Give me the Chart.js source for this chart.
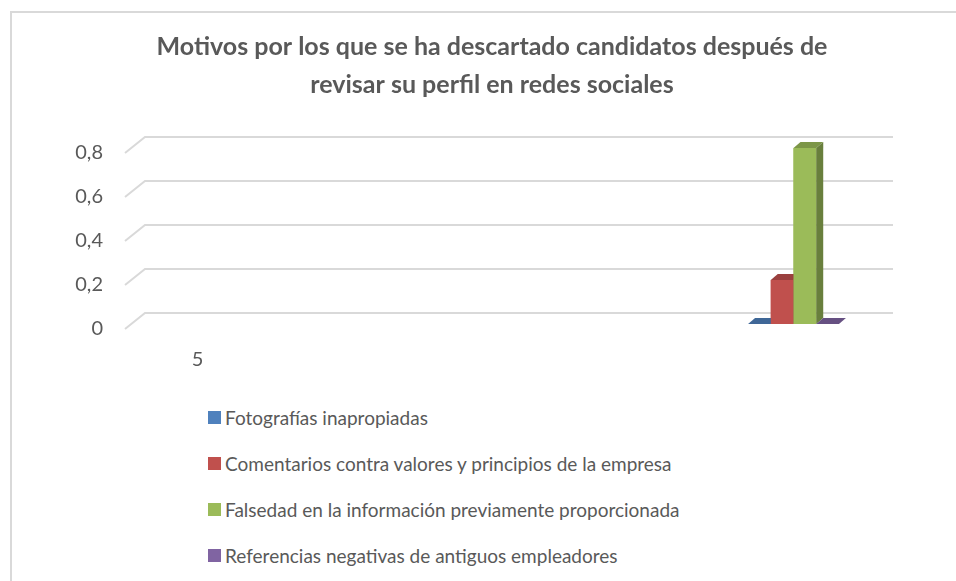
<!DOCTYPE html>
<html>
<head>
<meta charset="utf-8">
<script src="https://cdn.jsdelivr.net/npm/chart.js@4/dist/chart.umd.min.js"></script>
<style>
  body { margin: 0; overflow: hidden; background: #fff; width: 956px; height: 581px; font-family: Lato, sans-serif; }
  #frame { position: absolute; left: 10px; top: 11px; width: 990px; height: 620px;
           border-left: 2px solid #d9d9d9; border-top: 2px solid #d9d9d9; }
  #chartBox { position: absolute; left: 0; top: 0; }
  #legend { position: absolute; left: 196px; top: 381px; }
  .leg-item { display: flex; align-items: center; height: 46px; font-size: 19px; color: #595959; white-space: nowrap; }
  .leg-box { width: 13px; height: 13px; margin-right: 4px; }
</style>
</head>
<body>
<div id="frame">
  <canvas id="chartBox" width="960" height="380"></canvas>
  <div id="legend"></div>
</div>
<script>
// ---------- Data ----------
const titleLines = ["Motivos por los que se ha descartado candidatos después de", "revisar su perfil en redes sociales"];
const categories = ["5", "", "", "", ""];
const seriesNames = [
  "Fotografías inapropiadas",
  "Comentarios contra valores y principios de la empresa",
  "Falsedad en la información previamente proporcionada",
  "Referencias negativas de antiguos empleadores"
];
const fotografias = [null, null, null, null, 0];
const comentarios = [null, null, null, null, 0.2];
const falsedad = [null, null, null, null, 0.8];
const referencias = [null, null, null, null, 0];
const yTicks = [0, 0.2, 0.4, 0.6, 0.8];
const colors = ["#4f81bd", "#c0504d", "#9bbb59", "#8064a2"];

// ---------- Helpers ----------
function shade(hex, f) {
  const n = parseInt(hex.slice(1), 16);
  const r = Math.round(((n >> 16) & 255) * f);
  const g = Math.round(((n >> 8) & 255) * f);
  const b = Math.round((n & 255) * f);
  return `rgb(${r},${g},${b})`;
}
function poly(ctx, pts) {
  ctx.beginPath();
  ctx.moveTo(pts[0][0], pts[0][1]);
  pts.slice(1).forEach(p => ctx.lineTo(p[0], p[1]));
  ctx.closePath();
  ctx.fill();
}

const DX = 7, DY = 6;

// fake 3D: perspective gridlines + top/side faces of bars
const bar3d = {
  id: "bar3d",
  beforeDatasetsDraw(chart) {
    const { ctx, chartArea } = chart;
    const y = chart.scales.y;
    ctx.save();
    ctx.strokeStyle = "#d9d9d9";
    ctx.lineWidth = 2;
    yTicks.forEach(v => {
      const py = y.getPixelForValue(v);
      ctx.beginPath();
      ctx.moveTo(chartArea.left + 2, py + 5);
      ctx.lineTo(chartArea.left + 22, py - 11);
      ctx.lineTo(chartArea.right + 25, py - 11);
      ctx.stroke();
    });
    ctx.restore();
  },
  afterDatasetsDraw(chart) {
    const ctx = chart.ctx;
    ctx.save();
    chart.data.datasets.forEach((ds, i) => {
      const meta = chart.getDatasetMeta(i);
      meta.data.forEach((bar, j) => {
        if (ds.data[j] == null) return;
        const { x, y, base, width } = bar.getProps(["x", "y", "base", "width"], true);
        const l = x - width / 2, r = x + width / 2;
        ctx.fillStyle = ds.backgroundColor;
        ctx.fillRect(l, y, width, base - y);
        ctx.fillStyle = shade(ds.backgroundColor, 0.8);
        poly(ctx, [[l, y], [r, y], [r + DX, y - DY], [l + DX, y - DY]]);
        ctx.fillStyle = shade(ds.backgroundColor, 0.68);
        poly(ctx, [[r, y], [r + DX, y - DY], [r + DX, base - DY], [r, base]]);
      });
    });
    ctx.restore();
  }
};

const seriesData = [fotografias, comentarios, falsedad, referencias];

const chart = new Chart(document.getElementById("chartBox"), {
  type: "bar",
  data: {
    labels: categories,
    datasets: seriesNames.map((name, i) => ({
      label: name,
      data: seriesData[i],
      backgroundColor: colors[i],
      borderWidth: 0,
      barPercentage: 1,
      categoryPercentage: 0.61
    }))
  },
  plugins: [bar3d],
  options: {
    responsive: false,
    devicePixelRatio: 1,
    animation: false,
    layout: { padding: 0 },
    plugins: {
      legend: { display: false },
      tooltip: { enabled: false },
      title: {
        display: true,
        text: titleLines,
        color: "#595959",
        font: { family: "Lato", size: 25, weight: "bold", lineHeight: 38 / 25 },
        padding: { top: 15, bottom: 44 }
      }
    },
    scales: {
      x: {
        grid: { display: false, drawTicks: false },
        border: { display: false },
        ticks: { color: "#595959", font: { family: "Lato", size: 20 }, padding: 24, autoSkip: false, maxRotation: 0 },
        afterFit: s => { s.height = 69; }
      },
      y: {
        min: 0,
        max: 0.8,
        grid: { display: false, drawTicks: false },
        border: { display: false },
        ticks: {
          stepSize: 0.2,
          color: "#595959",
          font: { family: "Lato", size: 20 },
          padding: 20,
          labelOffset: 5,
          callback: v => v === 0 ? "0" : v.toFixed(1).replace(".", ",")
        },
        afterFit: s => { s.width = 111; }
      },
      // empty right-hand spacer so the title stays centred on the whole frame
      yRight: {
        position: "right",
        grid: { display: false, drawTicks: false },
        border: { display: false },
        ticks: { display: false },
        afterFit: s => { s.width = 104; }
      }
    }
  }
});

// ---------- Legend (one item per row) ----------
const legendEl = document.getElementById("legend");
chart.data.datasets.forEach(ds => {
  const item = document.createElement("div");
  item.className = "leg-item";
  const box = document.createElement("span");
  box.className = "leg-box";
  box.style.background = ds.backgroundColor;
  const txt = document.createElement("span");
  txt.textContent = ds.label;
  item.appendChild(box);
  item.appendChild(txt);
  legendEl.appendChild(item);
});
</script>
</body>
</html>
